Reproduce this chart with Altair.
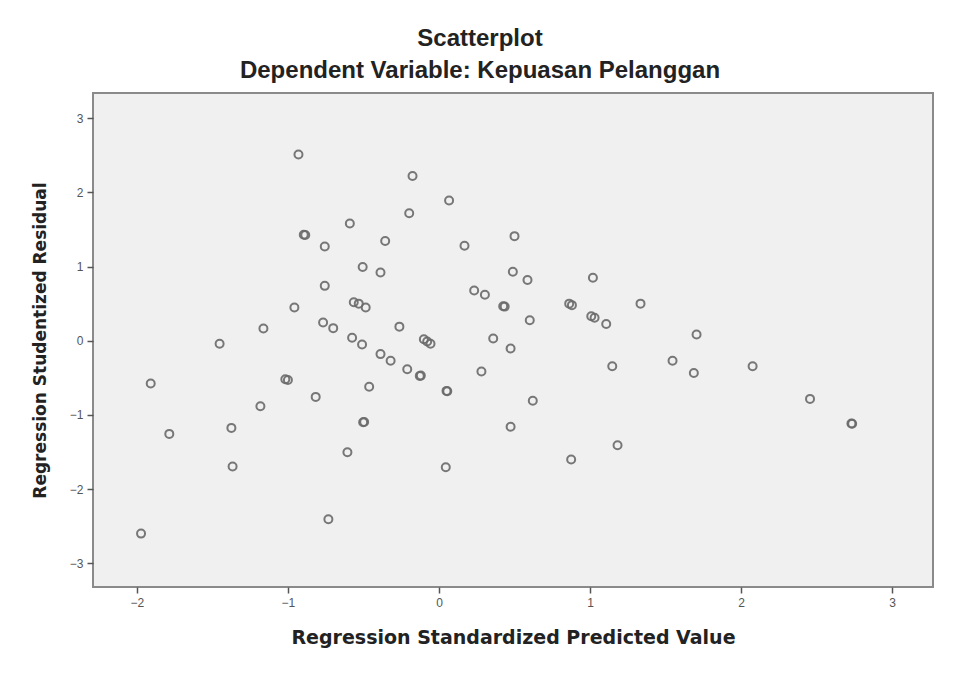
import altair as alt
import pandas as pd

# Regression standardized predicted value (x) and studentized residual (y)
pred = [
    -0.93, -0.59, -0.895, -0.885, -0.356, -0.756, -0.505, -0.387, -0.756,
    -0.564, -0.531, -0.485, -0.957, -1.162, -0.767, -0.70, -0.575, -1.452,
    -0.175, 0.067, -0.197, 0.50, 0.169, 0.489, 0.586, 1.019, 0.233, 0.304,
    0.425, 0.435, 0.862, 0.88, 1.008, 1.03, 1.107, 1.334, 0.601, -0.262,
    -0.10, -0.078, -0.056, 0.359, 1.705, -0.509, -0.387, -0.32, -1.908,
    -1.017, -1.00, -0.816, -1.182, -0.462, -0.502, -0.495, -1.785, -1.374,
    -1.366, -0.606, -0.732, -1.972, 0.474, -0.21, -0.127, -0.12, 0.05, 0.055,
    0.281, 0.621, 0.474, 0.875, 1.182, 0.045, 1.147, 1.546, 1.687, 2.076,
    2.456, 2.73, 2.735,
]
resid = [
    2.51, 1.58, 1.43, 1.425, 1.345, 1.27, 0.995, 0.92, 0.74,
    0.52, 0.50, 0.447, 0.447, 0.164, 0.245, 0.17, 0.04, -0.04,
    2.22, 1.89, 1.72, 1.41, 1.28, 0.93, 0.82, 0.85, 0.677, 0.62,
    0.465, 0.46, 0.50, 0.48, 0.33, 0.31, 0.226, 0.50, 0.276, 0.19,
    0.02, -0.01, -0.04, 0.03, 0.085, -0.05, -0.18, -0.27, -0.577,
    -0.52, -0.53, -0.757, -0.883, -0.62, -1.10, -1.095, -1.256, -1.175,
    -1.695, -1.503, -2.406, -2.60, -0.105, -0.384, -0.474, -0.47, -0.676, -0.68,
    -0.415, -0.81, -1.16, -1.60, -1.41, -1.705, -0.344, -0.27, -0.434, -0.344,
    -0.784, -1.116, -1.12,
]

x_ticks = [-2, -1, 0, 1, 2, 3]
y_ticks = [-3, -2, -1, 0, 1, 2, 3]

df = pd.DataFrame({"pred": pred, "resid": resid})

chart = alt.Chart(df).mark_point(
    shape="circle", filled=False, size=64, strokeWidth=2, color="#6a6a6a", opacity=0.9
).encode(
    x=alt.X("pred:Q",
            scale=alt.Scale(domain=[-2.29, 3.27], nice=False, zero=False),
            axis=alt.Axis(values=x_ticks, title="Regression Standardized Predicted Value",
                          grid=False, domain=False, tickSize=6, tickColor="#555",
                          tickWidth=1.5, labelPadding=4, labelFontSize=12,
                          labelColor="#555", titleFontSize=19, titleFontWeight="bold",
                          titleColor="#222", titlePadding=20, labelFont="Liberation Sans",
                          titleFont="DejaVu Sans")),
    y=alt.Y("resid:Q",
            scale=alt.Scale(domain=[-3.32, 3.34], nice=False, zero=False),
            axis=alt.Axis(values=y_ticks, title="Regression Studentized Residual",
                          grid=False, domain=False, tickSize=6, tickColor="#555",
                          tickWidth=1.5, labelPadding=4, labelFontSize=12,
                          labelColor="#555", titleFontSize=17, titleFontWeight="bold",
                          titleColor="#222", titlePadding=20, labelFont="Liberation Sans",
                          titleFont="DejaVu Sans")),
).properties(
    width=840,
    height=494,
    title=alt.Title(["Scatterplot", "Dependent Variable: Kepuasan Pelanggan"],
                    fontSize=24, font="Liberation Sans", fontWeight="bold",
                    color="#222", anchor="middle", lineHeight=32, offset=10, dx=-33),
    padding={"left": 85, "top": 85, "right": 30, "bottom": 80},
    autosize="none",
    background="white",
).configure_view(
    fill="#f0f0f0", stroke="#8a8a8a", strokeWidth=2
)

chart.save("out.html", embed_options={"renderer": "svg", "actions": False})
